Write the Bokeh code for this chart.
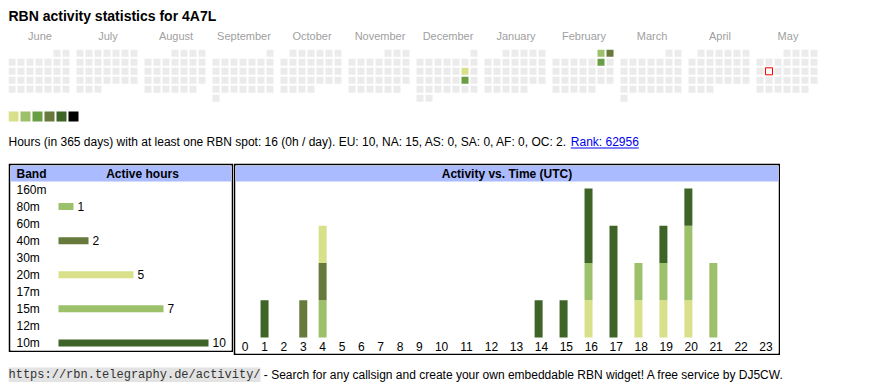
import datetime as dt
from bokeh.plotting import figure
from bokeh.models import Range1d, ColumnDataSource
from bokeh.layouts import column, row
from bokeh.core.properties import value
from bokeh.embed import file_html
from bokeh.resources import INLINE

# ---------------- data ----------------
TITLE = "RBN activity statistics for 4A7L"
MONTHS = ["June", "July", "August", "September", "October", "November",
          "December", "January", "February", "March", "April", "May"]
CAL_START = dt.date(2024, 6, 1)
CAL_END = dt.date(2025, 5, 31)
TODAY = dt.date(2025, 5, 13)
LEVEL_COLORS = ["#d9e08a", "#9dc06a", "#6a9e45", "#677a3b", "#3e6428", "#000000"]
ACTIVE_DAYS = ["2024-12-14", "2024-12-21", "2025-02-01", "2025-02-02", "2025-02-08"]
ACTIVE_LEVELS = [0, 2, 1, 3, 2]

STATS_TEXT = ("Hours (in 365 days) with at least one RBN spot: 16 (0h / day). "
              "EU: 10, NA: 15, AS: 0, SA: 0, AF: 0, OC: 2.")
RANK_TEXT = "Rank: 62956"
FOOT_URL = "https://rbn.telegraphy.de/activity/"
FOOT_TEXT = "- Search for any callsign and create your own embeddable RBN widget! A free service by DJ5CW."

BANDS = ["160m", "80m", "60m", "40m", "30m", "20m", "17m", "15m", "12m", "10m"]
BAND_COLORS = ["#3e6428", "#9dc06a", "#6a9e45", "#677a3b", "#d9e08a",
               "#d9e08a", "#6a9e45", "#9dc06a", "#677a3b", "#3e6428"]
HOURS = list(range(24))
# hours with activity per band, by UTC hour 0..23
ACT = {
    "160m": [0] * 24,
    "80m":  [0, 0, 0, 0, 1, 0, 0, 0, 0, 0, 0, 0, 0, 0, 0, 0, 0, 0, 0, 0, 0, 0, 0, 0],
    "60m":  [0] * 24,
    "40m":  [0, 0, 0, 1, 1, 0, 0, 0, 0, 0, 0, 0, 0, 0, 0, 0, 0, 0, 0, 0, 0, 0, 0, 0],
    "30m":  [0] * 24,
    "20m":  [0, 0, 0, 0, 1, 0, 0, 0, 0, 0, 0, 0, 0, 0, 0, 0, 1, 0, 1, 1, 1, 0, 0, 0],
    "17m":  [0] * 24,
    "15m":  [0, 0, 0, 0, 0, 0, 0, 0, 0, 0, 0, 0, 0, 0, 0, 0, 1, 0, 1, 1, 2, 2, 0, 0],
    "12m":  [0] * 24,
    "10m":  [0, 1, 0, 0, 0, 0, 0, 0, 0, 0, 0, 0, 0, 0, 1, 1, 2, 3, 0, 1, 1, 0, 0, 0],
}
BAND_HOURS = [sum(ACT[b]) for b in BANDS]

# ---------------- styling / layout constants ----------------
SANS = value("Liberation Sans")
MONO = value("Liberation Mono")
CELL_BG = "#ebebeb"
HEAD_BG = "#aabbff"
PAGE_W = 852
TOP_H = 155


def base_fig(w, h, xr, yr, **kw):
    p = figure(width=w, height=h, x_range=xr, y_range=yr, output_backend="svg",
               toolbar_location=None, x_axis_type=None, y_axis_type=None, **kw)
    p.min_border = 0
    p.outline_line_color = None
    return p


# ---------------- top: title, calendar, legend, stats ----------------
top = base_fig(PAGE_W, TOP_H, Range1d(8, 8 + PAGE_W), Range1d(8 + TOP_H, 8))
top.background_fill_color = "white"
top.border_fill_color = "white"

top.text(x=[8], y=[15.5], text=[TITLE], text_font=SANS, text_font_size=value("14px"),
         text_font_style=value("bold"), text_color="black", text_baseline="middle")

BLOCK, PITCH, CELL = 68, 9, 7
top.text(x=[8 + BLOCK * m + 31.5 for m in range(12)], y=[35.5] * 12, text=MONTHS,
         text_font=SANS, text_font_size=value("11px"), text_color="#a0a0a0",
         text_align="center", text_baseline="middle")

lvl_map = {dt.date.fromisoformat(d): l for d, l in zip(ACTIVE_DAYS, ACTIVE_LEVELS)}
cx, cy, cc = [], [], []
today_xy = None
d = CAL_START
while d <= CAL_END:
    m = (d.year - CAL_START.year) * 12 + d.month - CAL_START.month
    first_wd = d.replace(day=1).weekday()
    col = d.weekday()
    r = (d.day - 1 + first_wd) // 7
    x = 8 + BLOCK * m + PITCH * col + CELL / 2
    y = 49.3 + PITCH * r + CELL / 2
    cx.append(x)
    cy.append(y)
    cc.append(LEVEL_COLORS[lvl_map[d]] if d in lvl_map else CELL_BG)
    if d == TODAY:
        today_xy = (x, y)
    d += dt.timedelta(days=1)
top.rect(x=cx, y=cy, width=CELL, height=CELL, fill_color=cc, line_color=None)
top.rect(x=[today_xy[0]], y=[today_xy[1]], width=CELL, height=CELL,
         fill_color="#f8f8f8", line_color="#ff0000", line_width=1)

top.rect(x=[8 + 12 * i + 5 for i in range(len(LEVEL_COLORS))], y=[116] * len(LEVEL_COLORS),
         width=10, height=10, fill_color=LEVEL_COLORS, line_color=None)

top.text(x=[8], y=[141.5], text=[STATS_TEXT], text_font=SANS, text_font_size=value("12px"),
         text_color="black", text_baseline="middle")
RANK_X = 570.3
top.text(x=[RANK_X], y=[141.5], text=[RANK_TEXT], text_font=SANS, text_font_size=value("12px"),
         text_color="#0000ee", text_baseline="middle")
top.segment(x0=[RANK_X], y0=[147.5], x1=[RANK_X + 68], y1=[147.5], line_color="#0000ee",
            line_width=1)

# ---------------- box 1: band table ----------------
B1_W, B1_H = 225, 189        # page x 8..233, y 163..352
IN_X0, IN_X1, IN_Y0, IN_Y1 = 10, 231, 165, 350
BAR0, PX_PER_H = 58, 15
ROW0, ROW_PX = 189, 17.05


def bx(px):
    return (px - BAR0) / PX_PER_H


def by(py):
    return (py - ROW0) / ROW_PX


band = base_fig(B1_W, B1_H, Range1d(bx(IN_X0), bx(IN_X1)), Range1d(by(IN_Y1), by(IN_Y0)))
band.min_border_left = band.min_border_right = band.min_border_top = band.min_border_bottom = 2
band.border_fill_color = "black"
band.background_fill_color = "white"

band.quad(left=[bx(IN_X0)], right=[bx(IN_X1)], top=[by(IN_Y0)], bottom=[by(181)],
          fill_color=HEAD_BG, line_color=None)
band.text(x=[bx(16)], y=[by(173.5)], text=["Band"], text_font=SANS, text_font_size=value("12px"),
          text_font_style=value("bold"), text_baseline="middle", text_color="black")
band.text(x=[bx(142)], y=[by(173.5)], text=["Active hours"], text_font=SANS,
          text_font_size=value("12px"), text_font_style=value("bold"),
          text_baseline="middle", text_align="center", text_color="black")

bsrc = ColumnDataSource(dict(y=list(range(len(BANDS))), band=BANDS, hours=BAND_HOURS,
                             color=BAND_COLORS))
band.text(x=bx(16), y="y", text="band", source=bsrc, text_font=SANS,
          text_font_size=value("12px"), text_baseline="middle", text_color="black")
band.hbar(y="y", left=0, right="hours", height=7 / ROW_PX, fill_color="color",
          line_color=None, source=bsrc)
nz = [i for i, h in enumerate(BAND_HOURS) if h > 0]
band.text(x=[BAND_HOURS[i] for i in nz], y=nz, text=[str(BAND_HOURS[i]) for i in nz],
          x_offset=4, text_font=SANS, text_font_size=value("12px"), text_baseline="middle",
          text_color="black")

# ---------------- box 2: activity vs time ----------------
B2_W, B2_H = 547, 192        # page x 233..780, y 163..355
A_IN_W = B2_W - 4
A_BASE, UNIT = 337, 37.25


def ay(py):
    return (A_BASE - py) / UNIT


act = base_fig(B2_W, B2_H, Range1d(0, A_IN_W), Range1d(ay(353), ay(165)))
act.min_border_left = act.min_border_right = act.min_border_top = act.min_border_bottom = 2
act.border_fill_color = "black"
act.background_fill_color = "white"

labels = [str(h) for h in HOURS]
DIGIT_W = 5.6
pad = (A_IN_W - DIGIT_W * sum(len(s) for s in labels)) / len(labels)
widths = [pad + DIGIT_W * len(s) for s in labels]
lefts = [sum(widths[:i]) for i in range(len(widths))]
bar_x = [l + 9.7 for l in lefts]
lab_x = [l + w / 2 for l, w in zip(lefts, widths)]

act.quad(left=[0], right=[A_IN_W], top=[ay(165)], bottom=[ay(181)], fill_color=HEAD_BG,
         line_color=None)
act.text(x=[A_IN_W / 2], y=[ay(173.5)], text=["Activity vs. Time (UTC)"], text_font=SANS,
         text_font_size=value("12px"), text_font_style=value("bold"), text_align="center",
         text_baseline="middle", text_color="black")

asrc = dict(x=bar_x)
for b in BANDS:
    asrc[b] = ACT[b]
asrc = ColumnDataSource(asrc)
# stacked from long to short wavelength, bottom to top
act.vbar_stack(stackers=BANDS, x="x", width=8, color=BAND_COLORS, line_color=None,
               source=asrc)
act.text(x=lab_x, y=[ay(346)] * 24, text=labels, text_font=SANS, text_font_size=value("12px"),
         text_align="center", text_baseline="middle", text_color="black")

# ---------------- footer ----------------
FOOT_H = 27                  # page y 355..382
foot = base_fig(PAGE_W, FOOT_H, Range1d(8, 8 + PAGE_W), Range1d(355 + FOOT_H, 355))
foot.background_fill_color = "white"
foot.border_fill_color = "white"
MONO_W = 7.2
code_w = MONO_W * len(FOOT_URL)
foot.quad(left=[8], right=[8 + code_w], top=[367], bottom=[381.5], fill_color="#e3e3e3",
          line_color=None)
foot.text(x=[8], y=[374], text=[FOOT_URL], text_font=MONO, text_font_size=value("12px"),
          text_color="#333333", text_baseline="middle")
foot.text(x=[8 + code_w + 3.3], y=[374], text=[FOOT_TEXT], text_font=SANS,
          text_font_size=value("12px"), text_color="black", text_baseline="middle")

layout = column(top, row(band, act), foot, spacing=0, margin=(8, 0, 0, 8))
open("out.html", "w").write(file_html(layout, INLINE))
